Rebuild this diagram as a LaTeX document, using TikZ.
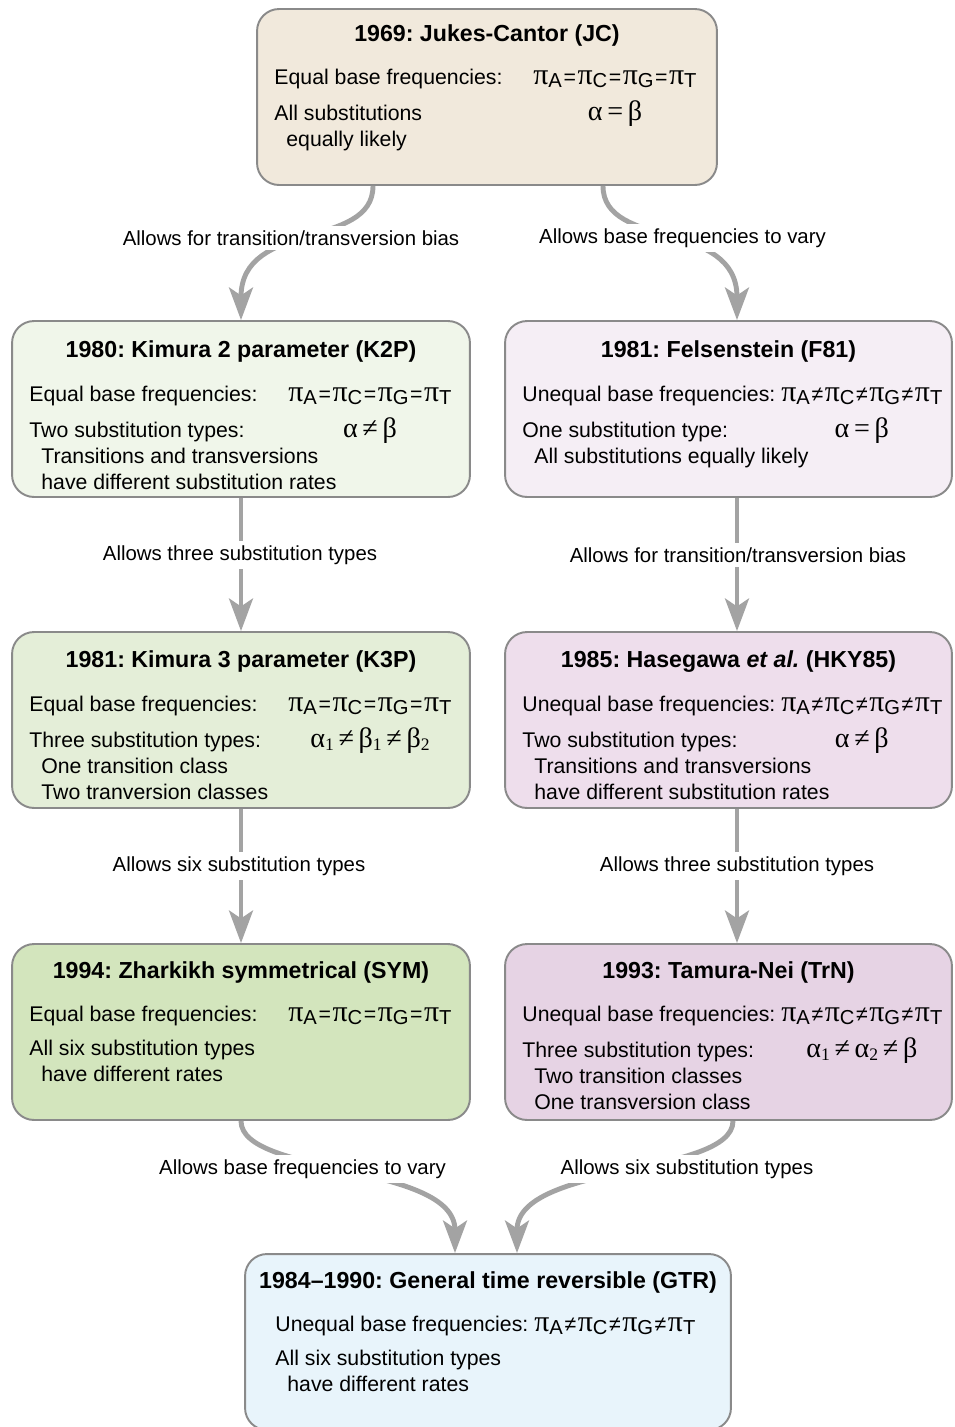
\documentclass[tikz,border=0pt]{standalone}
\usepackage{fontspec}
\setmainfont{Liberation Sans}
\newfontfamily\grkfont{Liberation Serif}
\usetikzlibrary{arrows.meta,calc}
\frenchspacing

\definecolor{boxline}{HTML}{8A8A8A}
\definecolor{arrowgray}{HTML}{A3A3A3}
\definecolor{jcfill}{HTML}{F1E9DC}
\definecolor{ktwofill}{HTML}{F0F6EA}
\definecolor{feltfill}{HTML}{F5EEF5}
\definecolor{kthreefill}{HTML}{E4EED8}
\definecolor{hkyfill}{HTML}{EEDEEC}
\definecolor{symfill}{HTML}{D3E5BD}
\definecolor{trnfill}{HTML}{E6D3E4}
\definecolor{gtrfill}{HTML}{E8F4FB}

\newcommand\gk[1]{{\grkfont\fontsize{16}{16}\selectfont #1}}
\newcommand\gsb[1]{\raisebox{-0.25ex}{\fontsize{10}{10}\selectfont #1}}
\newcommand\pis[1]{{\grkfont\fontsize{17}{17}\selectfont π}\raisebox{-0.3ex}{\fontsize{11.5}{11.5}\selectfont #1}}
\newcommand\rel[1]{\kern0.9pt#1\kern0.9pt}
\newcommand\eqpi{\pis{A}\rel{=}\pis{C}\rel{=}\pis{G}\rel{=}\pis{T}}
\newcommand\neqpi{\pis{A}\rel{≠}\pis{C}\rel{≠}\pis{G}\rel{≠}\pis{T}}
\newcommand\sub[1]{\multicolumn{2}{@{}l@{}}{\hspace*{6.8pt}#1}}

\tikzset{
  model/.style={draw=boxline, line width=1.1pt, rounded corners=0.44cm,
    minimum height=3.52cm, inner sep=0pt},
  ttl/.style={anchor=base, inner sep=0pt, font=\bfseries\fontsize{13.2}{16}\selectfont},
  body/.style={anchor=base west, inner sep=0pt, font=\fontsize{12.1}{14.74}\selectfont},
  lbl/.style={fill=white, inner sep=2.5pt, font=\fontsize{11.6}{14}\selectfont},
  flow/.style={draw=arrowgray, line width=2.8pt,
    -{Stealth[length=18.5pt, width=13.6pt, inset=4.5pt]}},
}

\begin{document}
\begin{tikzpicture}[x=0.02cm, y=-0.02cm]
  \useasboundingbox (0,0) rectangle (954,1427);
  \clip (0,0) rectangle (954,1427);

  % model boxes
  \node[model, fill=jcfill, minimum width=9.2cm] (jc) at (487,97) {};
  \node[model, fill=ktwofill, minimum width=9.16cm] (k2p) at (241,409) {};
  \node[model, fill=feltfill, minimum width=8.94cm] (f81) at (728.5,409) {};
  \node[model, fill=kthreefill, minimum width=9.16cm] (k3p) at (241,720) {};
  \node[model, fill=hkyfill, minimum width=8.94cm] (hky) at (728.5,720) {};
  \node[model, fill=symfill, minimum width=9.16cm] (sym) at (241,1032) {};
  \node[model, fill=trnfill, minimum width=8.94cm] (trn) at (728.5,1032) {};
  \node[model, fill=gtrfill, minimum width=9.72cm] (gtr) at (488,1342) {};

  % titles
  \node[ttl] (jc-t) at ($(jc.north)+(0,33)$) {1969: Jukes-Cantor (JC)};
  \node[ttl] (k2p-t) at ($(k2p.north)+(0,37)$) {1980: Kimura 2 parameter (K2P)};
  \node[ttl] (f81-t) at ($(f81.north)+(0,37)$) {1981: Felsenstein (F81)};
  \node[ttl] (k3p-t) at ($(k3p.north)+(0,36)$) {1981: Kimura 3 parameter (K3P)};
  \node[ttl] (hky-t) at ($(hky.north)+(0,36)$) {1985: Hasegawa \textit{et al.} (HKY85)};
  \node[ttl] (sym-t) at ($(sym.north)+(0,35)$) {1994: Zharkikh symmetrical (SYM)};
  \node[ttl] (trn-t) at ($(trn.north)+(0,35)$) {1993: Tamura-Nei (TrN)};
  \node[ttl] (gtr-t) at ($(gtr.north)+(0,35)$) {1984–1990: General time reversible (GTR)};

  % box contents
  \node[body] (jc-b) at ($(jc.north west)+(18,76)$) {%
    \begin{tabular}[t]{@{}p{147.4pt}@{}c@{}}
      Equal base frequencies: & \eqpi\\[5.1pt]
      All substitutions & \gk{α\,=\,β}\\
      \sub{equally likely}
    \end{tabular}};
  \node[body] (k2p-b) at ($(k2p.north west)+(18,81)$) {%
    \begin{tabular}[t]{@{}p{147.4pt}@{}c@{}}
      Equal base frequencies: & \eqpi\\[5.1pt]
      Two substitution types: & \gk{α\,≠\,β}\\
      \sub{Transitions and transversions}\\
      \sub{have different substitution rates}
    \end{tabular}};
  \node[body] (f81-b) at ($(f81.north west)+(18,81)$) {%
    \begin{tabular}[t]{@{}p{147.4pt}@{}c@{}}
      Unequal base frequencies: & \neqpi\\[5.1pt]
      One substitution type: & \gk{α\,=\,β}\\
      \sub{All substitutions equally likely}
    \end{tabular}};
  \node[body] (k3p-b) at ($(k3p.north west)+(18,80)$) {%
    \begin{tabular}[t]{@{}p{147.4pt}@{}c@{}}
      Equal base frequencies: & \eqpi\\[5.1pt]
      Three substitution types: & \gk{α\gsb{1}\,≠\,β\gsb{1}\,≠\,β\gsb{2}}\\
      \sub{One transition class}\\
      \sub{Two tranversion classes}
    \end{tabular}};
  \node[body] (hky-b) at ($(hky.north west)+(18,80)$) {%
    \begin{tabular}[t]{@{}p{147.4pt}@{}c@{}}
      Unequal base frequencies: & \neqpi\\[5.1pt]
      Two substitution types: & \gk{α\,≠\,β}\\
      \sub{Transitions and transversions}\\
      \sub{have different substitution rates}
    \end{tabular}};
  \node[body] (sym-b) at ($(sym.north west)+(18,78)$) {%
    \begin{tabular}[t]{@{}p{147.4pt}@{}c@{}}
      Equal base frequencies: & \eqpi\\[5.1pt]
      All six substitution types & \\
      \sub{have different rates}
    \end{tabular}};
  \node[body] (trn-b) at ($(trn.north west)+(18,78)$) {%
    \begin{tabular}[t]{@{}p{147.4pt}@{}c@{}}
      Unequal base frequencies: & \neqpi\\[5.1pt]
      Three substitution types: & \gk{α\gsb{1}\,≠\,α\gsb{2}\,≠\,β}\\
      \sub{Two transition classes}\\
      \sub{One transversion class}
    \end{tabular}};
  \node[body] (gtr-b) at ($(gtr.north west)+(31,78)$) {%
    \begin{tabular}[t]{@{}p{147.4pt}@{}c@{}}
      Unequal base frequencies: & \neqpi\\[5.1pt]
      All six substitution types & \\
      \sub{have different rates}
    \end{tabular}};

  % connectors
  \draw[flow] ($(jc.south)+(-114,0)$) .. controls +(0,64) and +(0,-101) .. (k2p.north);
  \draw[flow] ($(jc.south)+(116,0)$) .. controls +(0,64) and +(0,-101) .. ($(f81.north)+(8.5,0)$);
  \draw[flow] (k2p.south) -- (k3p.north);
  \draw[flow] ($(f81.south)+(8.5,0)$) -- ($(hky.north)+(8.5,0)$);
  \draw[flow] (k3p.south) -- (sym.north);
  \draw[flow] ($(hky.south)+(8.5,0)$) -- ($(trn.north)+(8.5,0)$);
  \draw[flow] (sym.south) .. controls +(0,55) and +(0,-90) .. ($(gtr.north)+(-33,0)$);
  \draw[flow] ($(trn.south)+(4.5,0)$) .. controls +(0,55) and +(0,-90) .. ($(gtr.north)+(29,0)$);

  % connector labels
  \node[lbl] (jc-k2p) at (291,238) {Allows for transition/transversion bias};
  \node[lbl] (jc-f81) at (682.5,238) {Allows base frequencies to vary};
  \node[lbl] (k2p-k3p) at (240,555) {Allows three substitution types};
  \node[lbl] (f81-hky) at (738,555) {Allows for transition/transversion bias};
  \node[lbl] (k3p-sym) at (239,866) {Allows six substitution types};
  \node[lbl] (hky-trn) at (737,866) {Allows three substitution types};
  \node[lbl] (sym-gtr) at (302.5,1169) {Allows base frequencies to vary};
  \node[lbl] (trn-gtr) at (687,1169) {Allows six substitution types};
\end{tikzpicture}
\end{document}
